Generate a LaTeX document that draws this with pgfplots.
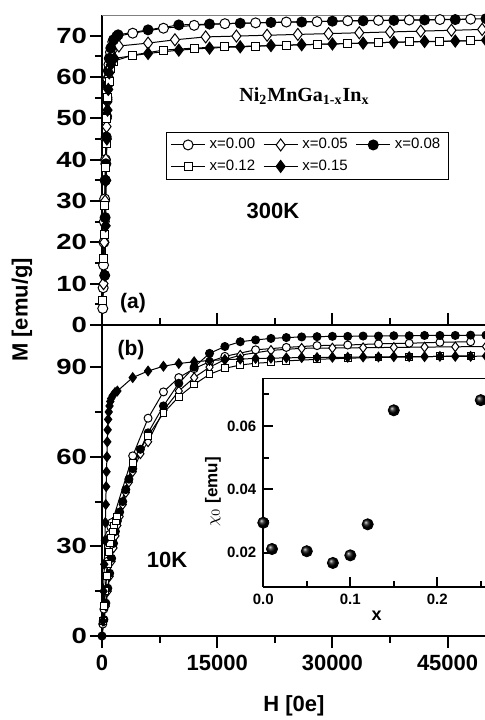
\documentclass[border=0pt]{standalone}
\usepackage{fontspec}
\setmainfont{Liberation Sans}
\newfontfamily\seriffont{Liberation Serif}
\usepackage{pgfplots}
\pgfplotsset{compat=1.18}

\pgfplotsset{
  mainax/.style={scale only axis, width=192pt, xmin=0, xmax=50000,
    axis line style={line width=1pt},
    every tick/.style={black, line width=1pt},
    major tick length=6pt, minor tick length=3.5pt,
    tick align=outside,
    /pgf/number format/assume math mode=true,
    /pgf/number format/1000 sep={},
    scaled ticks=false,
    tick label style={font=\bfseries\fontsize{11}{13}\selectfont},
    yticklabel style={xscale=1.25, inner sep=1pt},
    every axis plot/.append style={line width=0.5pt, black},
  },
  c00/.style={mark=*, mark options={fill=white, solid}},
  c05/.style={mark=diamond*, mark options={fill=white, solid}},
  c08/.style={mark=*, mark options={fill=black, solid}},
  c12/.style={mark=square*, mark options={fill=white, solid}},
  c15/.style={mark=diamond*, mark options={fill=black, solid}},
}

\begin{document}
\begin{tikzpicture}
\useasboundingbox (0,0) rectangle (242pt,360pt);

% (a) 300 K
\begin{axis}[mainax, at={(51pt,197.5pt)}, anchor=south west, height=155pt,
  ymin=0, ymax=75, axis x line*=bottom, axis y line*=left,
  xtick=\empty, ytick={0,10,...,70}, minor y tick num=1,
  legend columns=3, legend cell align=left,
  legend style={at={(0.1667,0.6235)}, anchor=north west, draw=black,
    line width=0.5pt, font=\fontsize{7.5}{9}\selectfont,
    inner xsep=2pt, inner ysep=1pt,
    /tikz/every even column/.append style={column sep=2pt}}]
\addplot[c00, mark size=2.5pt] coordinates {(100,4)(150,9)(200,14.5)(250,20)(300,25)(350,30.5)(400,35)(450,40)(500,45)(560,50)(650,55)(760,59.5)(900,63)(1100,66)(1400,68.5)(1900,69.8)(4000,70.6)(8000,71.8)(12000,72.5)(16000,72.9)(20000,73.1)(24000,73.3)(28000,73.4)(32000,73.6)(36000,73.7)(40000,73.8)(44000,73.9)(48000,74.0)};
\addlegendentry{x=0.00}
\addplot[c05, mark size=3pt] coordinates {(200,10)(300,20)(400,30)(500,40)(600,48)(700,54)(850,60)(1050,64)(1400,66.5)(2200,67.5)(6000,68.2)(9500,69)(13500,69.7)(17500,69.9)(21500,70.1)(25500,70.3)(29500,70.5)(33500,70.7)(37500,70.9)(41500,71.1)(45500,71.3)(49500,71.5)};
\addlegendentry{x=0.05}
\addplot[c08, mark size=2.5pt] coordinates {(350,12)(400,26)(450,35)(500,39)(550,45.5)(600,50.5)(650,54.5)(720,58)(820,61.5)(950,64.5)(1150,67)(1500,69)(2100,70.2)(6000,71.4)(10000,72.6)(14000,72.8)(18000,73)(22000,73.2)(26000,73.3)(30000,73.5)(34000,73.6)(38000,73.7)(42000,73.8)(46000,73.9)(50000,74.1)};
\addlegendentry{x=0.08}
\addplot[c12, mark size=2pt] coordinates {(120,6)(200,16)(280,22)(360,29)(450,38)(550,44)(650,50)(780,55)(920,59)(1100,62)(1500,63.8)(4000,65.3)(8000,66.5)(12000,67)(16000,67.3)(20000,67.5)(24000,67.7)(28000,67.9)(32000,68.1)(36000,68.3)(40000,68.5)(44000,68.6)(48000,68.8)};
\addlegendentry{x=0.12}
\addplot[c15, mark size=3pt] coordinates {(400,12)(480,24)(560,35)(640,45)(720,52)(820,57)(950,61)(1150,63)(1600,64.5)(6000,65.7)(10000,66.5)(14000,67)(18000,67.3)(22000,67.6)(26000,67.8)(30000,68)(34000,68.2)(38000,68.4)(42000,68.6)(46000,68.7)(50000,68.9)};
\addlegendentry{x=0.15}
\draw[gray, line width=0.5pt] (rel axis cs:0,1) -- (rel axis cs:1,1);
\end{axis}

% (b) 10 K
\begin{axis}[mainax, at={(51pt,42pt)}, anchor=south west, height=155.5pt,
  ymin=0, ymax=104.1, xtick={0,15000,30000,45000}, minor x tick num=1,
  ytick={0,30,60,90}, minor y tick num=1, ytick pos=left]
\addplot[c00, mark size=2pt] coordinates {(100,4)(250,9)(400,15)(550,20)(700,25)(850,30)(1000,34)(1150,36.5)(1300,38)(4000,60.3)(6000,72.9)(8000,81.7)(10000,86.5)(12000,89.5)(14000,91.8)(16000,93.6)(20000,95.8)(24000,96.6)(28000,97.2)(32000,97.4)(36000,97.8)(40000,98.0)(44000,98.3)(48000,98.5)};
\addplot[c05, mark size=2.4pt] coordinates {(0,0)(250,5)(500,10)(750,15)(1000,20)(1250,25)(1500,29.5)(1750,33.5)(2000,37)(2300,40)(2700,44)(3100,48)(3500,51.5)(4000,55)(5000,61)(6000,65)(8000,75.5)(10000,82)(12000,86.5)(14000,90)(16000,92.5)(18000,94)(22000,95.6)(26000,96.3)(30000,96.4)(34000,96.5)(38000,96.6)(42000,96.7)(46000,96.8)(50000,96.9)};
\addplot[c08, mark size=2pt] coordinates {(0,0)(250,5.5)(500,11)(750,16)(1000,21)(1250,26)(1500,31)(1750,35)(2000,38.5)(2300,41.5)(2700,45)(3100,49)(3500,52.5)(4000,56)(5000,62.5)(6000,68)(8000,77)(10000,84.6)(12000,90)(14000,94.6)(16000,96.9)(18000,98.5)(20000,99.1)(22000,99.6)(24000,99.9)(26000,100.1)(28000,100.2)(30000,100.3)(32000,100.3)(34000,100.4)(36000,100.4)(38000,100.5)(40000,100.5)(42000,100.6)(44000,100.6)(46000,100.6)(48000,100.7)(50000,100.7)};
\addplot[c12, mark size=1.7pt] coordinates {(150,5)(300,10)(450,15)(600,20)(750,24)(900,28)(1050,31)(1200,33)(1400,35)(1600,37)(1800,38.5)(2000,40)(4000,57.8)(6000,67)(8000,74.6)(10000,80.1)(12000,84.2)(14000,87.6)(16000,89.6)(18000,90.7)(20000,91.3)(22000,91.6)(24000,92.1)(28000,92.6)(32000,93)(36000,93.2)(40000,93.4)(44000,93.6)(48000,93.8)};
\addplot[c15, mark size=2.4pt] coordinates {(100,5)(200,15)(300,24)(380,32)(440,38)(490,44)(540,50)(590,55)(640,60)(690,65)(740,69)(800,72.5)(880,75)(980,77)(1080,78.5)(1200,79.5)(1400,80.5)(1700,81.5)(2000,82)(4000,86.5)(6000,88.7)(8000,90.3)(10000,91.2)(12000,91.8)(14000,92.2)(16000,92.5)(18000,92.7)(20000,92.9)(22000,93.0)(24000,93.1)(26000,93.2)(28000,93.2)(30000,93.3)(32000,93.3)(34000,93.4)(36000,93.4)(38000,93.5)(40000,93.5)(42000,93.5)(44000,93.6)(46000,93.6)(48000,93.6)(50000,93.7)};
\end{axis}

% inset
\begin{axis}[at={(131.65pt,66.65pt)}, anchor=south west, scale only axis,
  width=111.35pt, height=104.2pt, xmin=0, xmax=0.256, ymin=0.0093, ymax=0.0751,
  axis x line*=bottom, axis y line*=left, clip=false,
  axis line style={line width=1pt},
  every tick/.style={black, line width=1pt},
  major tick length=5pt, minor tick length=3pt, tick align=inside,
  xtick={0,0.1,0.2}, minor xtick={0.05,0.15,0.25},
  ytick={0.02,0.04,0.06}, minor ytick={0.03,0.05,0.07},
  scaled ticks=false,
  /pgf/number format/assume math mode=true,
  tick label style={font=\bfseries\fontsize{7.5}{9}\selectfont},
  xticklabel style={/pgf/number format/.cd, fixed, fixed zerofill, precision=1},
  yticklabel style={/pgf/number format/.cd, fixed, fixed zerofill, precision=2}]
\addplot[only marks, mark=ball, mark size=2.8pt, mark options={ball color=black}] coordinates {(0,0.0295)(0.01,0.0212)(0.05,0.0205)(0.08,0.0168)(0.10,0.0192)(0.12,0.029)(0.15,0.065)(0.25,0.0682)};
\draw[black, line width=0.5pt] (rel axis cs:0,1) -- (rel axis cs:1.02,1);
\end{axis}

\node[rotate=90, font=\bfseries\fontsize{11}{13}\selectfont] at (11pt,205pt) {M [emu/g]};
\node[font=\bfseries\fontsize{11}{13}\selectfont] at (147pt,7pt) {H [0e]};
\node[font=\seriffont\bfseries\fontsize{10}{12}\selectfont] at (152.25pt,312pt) {Ni\textsubscript{2}MnGa\textsubscript{1-x}In\textsubscript{x}};
\node[font=\bfseries\fontsize{11}{13}\selectfont] at (136.5pt,254.5pt) {300K};
\node[font=\bfseries\fontsize{10.5}{12}\selectfont] at (66.5pt,208.5pt) {(a)};
\node[font=\bfseries\fontsize{10.5}{12}\selectfont] at (65.5pt,185pt) {(b)};
\node[font=\bfseries\fontsize{11}{13}\selectfont] at (83.5pt,80pt) {10K};
\node[rotate=90, font=\bfseries\fontsize{8.5}{10}\selectfont] at (106.5pt,114pt) {$\chi_0$ [emu]};
\node[font=\bfseries\fontsize{9}{10}\selectfont] at (188.35pt,52pt) {x};
\end{tikzpicture}
\end{document}
